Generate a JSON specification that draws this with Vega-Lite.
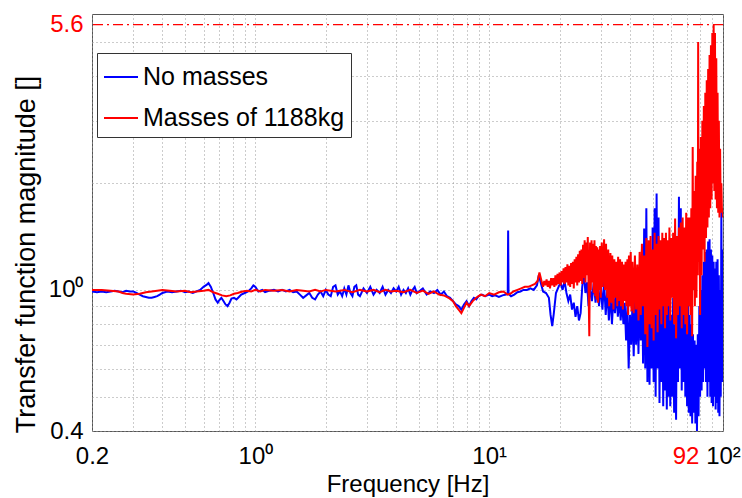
{
"$schema": "https://vega.github.io/schema/vega-lite/v6.json",
"width": 631, "height": 417,
"autosize": {"type": "none"},
"padding": {"left": 92, "top": 14, "right": 19, "bottom": 67},
"background": "white",
"config": {"view": {"stroke": "#555", "strokeWidth": 1}, "font": "Liberation Sans"},
"datasets": {
"blue": [
{"f":0.2,"v":0.99},{"f":0.21,"v":0.985},{"f":0.22,"v":0.99},{"f":0.23,"v":0.985},{"f":0.24,"v":0.99},{"f":0.25,"v":0.995},{"f":0.26,"v":0.99},{"f":0.27,"v":0.985},{"f":0.28,"v":0.995},{"f":0.29,"v":0.99},{"f":0.3,"v":0.99},{"f":0.31,"v":0.98},{"f":0.32,"v":0.97},{"f":0.33,"v":0.96},{"f":0.34,"v":0.955},{"f":0.35,"v":0.95},{"f":0.36,"v":0.95},{"f":0.37,"v":0.955},{"f":0.38,"v":0.96},{"f":0.39,"v":0.97},{"f":0.4,"v":0.98},{"f":0.42,"v":0.99},{"f":0.44,"v":0.985},{"f":0.46,"v":0.99},{"f":0.48,"v":0.995},{"f":0.5,"v":0.985},{"f":0.52,"v":0.99},{"f":0.54,"v":0.98},{"f":0.56,"v":0.99},{"f":0.58,"v":1.0},{"f":0.6,"v":1.02},{"f":0.62,"v":1.035},{"f":0.63,"v":1.045},{"f":0.645,"v":1.02},{"f":0.66,"v":0.98},{"f":0.675,"v":0.94},{"f":0.69,"v":0.92},{"f":0.7,"v":0.935},{"f":0.715,"v":0.95},{"f":0.73,"v":0.93},{"f":0.745,"v":0.91},{"f":0.76,"v":0.9},{"f":0.775,"v":0.92},{"f":0.79,"v":0.945},{"f":0.81,"v":0.95},{"f":0.83,"v":0.94},{"f":0.85,"v":0.955},{"f":0.87,"v":0.97},{"f":0.9,"v":0.98},{"f":0.93,"v":0.99},{"f":0.96,"v":1.01},{"f":0.98,"v":1.03},{"f":1.0,"v":1.02},{"f":1.03,"v":0.99},{"f":1.07,"v":1.0},{"f":1.1,"v":0.985},{"f":1.15,"v":0.995},{"f":1.2,"v":1.0},{"f":1.25,"v":0.99},{"f":1.3,"v":1.0},{"f":1.35,"v":0.99},{"f":1.4,"v":1.0},{"f":1.45,"v":0.985},{"f":1.5,"v":0.99},{"f":1.55,"v":0.97},{"f":1.6,"v":0.95},{"f":1.65,"v":0.965},{"f":1.7,"v":0.98},{"f":1.75,"v":0.95},{"f":1.8,"v":0.94},{"f":1.85,"v":0.97},{"f":1.9,"v":0.99},{"f":1.95,"v":0.96},{"f":2.0,"v":1.0},{"f":2.05,"v":0.97},{"f":2.1,"v":0.96},{"f":2.15,"v":1.02},{"f":2.2,"v":1.03},{"f":2.25,"v":0.97},{"f":2.3,"v":0.99},{"f":2.35,"v":0.96},{"f":2.4,"v":1.01},{"f":2.45,"v":0.97},{"f":2.5,"v":1.03},{"f":2.55,"v":0.98},{"f":2.6,"v":0.96},{"f":2.65,"v":1.02},{"f":2.7,"v":1.03},{"f":2.75,"v":0.97},{"f":2.8,"v":0.96},{"f":2.9,"v":1.01},{"f":3.0,"v":0.98},{"f":3.1,"v":1.02},{"f":3.2,"v":0.97},{"f":3.3,"v":1.0},{"f":3.4,"v":0.98},{"f":3.5,"v":1.02},{"f":3.6,"v":0.97},{"f":3.7,"v":1.0},{"f":3.8,"v":0.98},{"f":3.9,"v":1.01},{"f":4.0,"v":0.99},{"f":4.1,"v":1.02},{"f":4.2,"v":0.97},{"f":4.3,"v":1.0},{"f":4.4,"v":0.98},{"f":4.5,"v":1.01},{"f":4.6,"v":0.97},{"f":4.7,"v":1.0},{"f":4.8,"v":1.02},{"f":4.9,"v":0.98},{"f":5.0,"v":0.99},{"f":5.2,"v":1.01},{"f":5.4,"v":0.97},{"f":5.6,"v":0.99},{"f":5.8,"v":0.98},{"f":6.0,"v":1.0},{"f":6.2,"v":0.97},{"f":6.4,"v":0.99},{"f":6.6,"v":0.96},{"f":6.8,"v":0.95},{"f":7.0,"v":0.93},{"f":7.2,"v":0.91},{"f":7.4,"v":0.9},{"f":7.6,"v":0.88},{"f":7.8,"v":0.91},{"f":8.0,"v":0.93},{"f":8.2,"v":0.9},{"f":8.4,"v":0.93},{"f":8.6,"v":0.95},{"f":8.8,"v":0.94},{"f":9.0,"v":0.96},{"f":9.3,"v":0.97},{"f":9.6,"v":0.96},{"f":10.0,"v":0.97},{"f":10.3,"v":0.96},{"f":10.6,"v":0.965},{"f":11.0,"v":0.955},{"f":11.4,"v":0.965},{"f":11.8,"v":0.97},{"f":12.0,"v":0.975},{"f":12.05,"v":1.47},{"f":12.1,"v":0.975},{"f":12.4,"v":0.96},{"f":12.8,"v":0.97},{"f":13.2,"v":0.985},{"f":13.6,"v":0.99},{"f":14.0,"v":1.0},{"f":14.5,"v":1.0},{"f":15.0,"v":1.01},{"f":15.5,"v":1.0},{"f":16.0,"v":1.03},{"f":16.3,"v":1.1},{"f":16.6,"v":1.05},{"f":17.0,"v":0.99},{"f":17.5,"v":0.98},{"f":18.0,"v":0.95},{"f":18.3,"v":0.85},{"f":18.6,"v":0.79},{"f":18.9,"v":0.86},{"f":19.3,"v":0.98},{"f":19.8,"v":1.02},{"f":20.2,"v":1.05},{"f":20.6,"v":1.0},{"f":21.0,"v":1.06},{"f":21.4,"v":0.98},{"f":21.8,"v":0.93},{"f":22.2,"v":0.97},{"f":22.6,"v":0.88},{"f":23.0,"v":0.92},{"f":23.4,"v":0.84},{"f":23.8,"v":0.9},{"f":24.2,"v":0.82},{"f":24.6,"v":0.86},{"f":25.0,"v":1.02},{"f":25.4,"v":1.12},{"f":25.8,"v":0.98},{"f":26.2,"v":1.05},{"f":26.6,"v":0.9},{"f":27.0,"v":1.02},{"f":27.5,"v":0.93},{"f":28.0,"v":1.05},{"f":28.5,"v":0.92},{"f":29.0,"v":1.05},{"f":29.5,"v":0.9},{"f":30.0,"v":1.03},{"f":30.5,"v":0.88},{"f":31.0,"v":1.06},{"f":31.5,"v":0.85},{"f":32.0,"v":1.0},{"f":32.5,"v":0.82},{"f":33.0,"v":0.98},{"f":33.5,"v":0.8},{"f":34.0,"v":0.96},{"f":34.5,"v":0.86},{"f":35.0,"v":1.0},{"f":35.5,"v":0.84},{"f":36.0,"v":0.96},{"f":36.5,"v":0.82},{"f":37.0,"v":0.94},{"f":37.5,"v":0.8},{"f":38.0,"v":0.92},{"f":38.5,"v":0.72},{"f":39.0,"v":0.9},{"f":39.5,"v":0.6},{"f":40.0,"v":0.85},{"f":40.5,"v":0.7},{"f":41.0,"v":0.92},{"f":41.5,"v":0.65},{"f":42.0,"v":0.95},{"f":42.5,"v":0.7},{"f":43.0,"v":1.0},{"f":43.5,"v":0.66},{"f":44.0,"v":1.1},{"f":44.5,"v":0.72},{"f":45.0,"v":1.3},{"f":45.5,"v":0.62},{"f":46.0,"v":1.49},{"f":46.5,"v":0.6},{"f":47.0,"v":1.7},{"f":47.5,"v":0.55},{"f":48.0,"v":1.3},{"f":48.5,"v":0.54},{"f":49.0,"v":1.2},{"f":49.5,"v":0.6},{"f":50.0,"v":1.5},{"f":50.5,"v":0.55},{"f":51.0,"v":1.7},{"f":51.5,"v":0.5},{"f":52.0,"v":1.87},{"f":52.5,"v":0.6},{"f":53.0,"v":1.6},{"f":53.5,"v":0.48},{"f":54.0,"v":1.3},{"f":54.5,"v":0.55},{"f":55.0,"v":1.1},{"f":55.5,"v":0.47},{"f":56.0,"v":1.0},{"f":56.5,"v":0.52},{"f":57.0,"v":0.9},{"f":57.5,"v":0.46},{"f":58.0,"v":1.05},{"f":58.5,"v":0.5},{"f":59.0,"v":0.9},{"f":59.5,"v":0.47},{"f":60.0,"v":0.85},{"f":60.6,"v":0.5},{"f":61.2,"v":0.95},{"f":61.8,"v":0.45},{"f":62.4,"v":0.8},{"f":63.0,"v":0.43},{"f":63.6,"v":1.2},{"f":64.2,"v":0.55},{"f":64.8,"v":1.83},{"f":65.4,"v":0.6},{"f":66.0,"v":1.7},{"f":66.6,"v":0.52},{"f":67.2,"v":1.3},{"f":67.8,"v":0.55},{"f":68.4,"v":1.1},{"f":69.0,"v":0.5},{"f":69.6,"v":0.95},{"f":70.2,"v":0.47},{"f":70.8,"v":0.9},{"f":71.4,"v":0.45},{"f":72.0,"v":0.85},{"f":72.6,"v":0.44},{"f":73.2,"v":0.8},{"f":73.8,"v":0.42},{"f":74.4,"v":0.75},{"f":75.0,"v":0.45},{"f":75.6,"v":0.72},{"f":76.2,"v":0.42},{"f":76.8,"v":0.7},{"f":77.4,"v":0.4},{"f":78.0,"v":0.75},{"f":78.6,"v":0.44},{"f":79.2,"v":0.9},{"f":79.8,"v":0.5},{"f":80.4,"v":1.0},{"f":81.0,"v":0.52},{"f":81.6,"v":1.1},{"f":82.2,"v":0.55},{"f":82.8,"v":1.2},{"f":83.4,"v":0.6},{"f":84.0,"v":1.28},{"f":84.6,"v":0.55},{"f":85.2,"v":1.3},{"f":85.8,"v":0.5},{"f":86.4,"v":1.37},{"f":87.0,"v":0.55},{"f":87.6,"v":1.39},{"f":88.2,"v":0.5},{"f":88.8,"v":1.3},{"f":89.4,"v":0.48},{"f":90.0,"v":1.25},{"f":90.6,"v":0.47},{"f":91.2,"v":1.2},{"f":91.8,"v":0.5},{"f":92.4,"v":1.15},{"f":93.0,"v":0.46},{"f":93.6,"v":1.2},{"f":94.2,"v":0.48},{"f":94.8,"v":1.22},{"f":95.4,"v":0.45},{"f":96.0,"v":1.1},{"f":96.6,"v":0.44},{"f":97.2,"v":1.0},{"f":97.8,"v":0.5},{"f":98.4,"v":1.67},{"f":99.0,"v":0.55},{"f":99.6,"v":1.3},{"f":100,"v":0.85}
],
"red": [
{"f":0.2,"v":1.0},{"f":0.22,"v":1.0},{"f":0.24,"v":0.995},{"f":0.26,"v":0.99},{"f":0.27,"v":0.98},{"f":0.28,"v":0.975},{"f":0.3,"v":0.97},{"f":0.32,"v":0.975},{"f":0.34,"v":0.985},{"f":0.36,"v":0.99},{"f":0.38,"v":0.995},{"f":0.4,"v":1.0},{"f":0.43,"v":0.995},{"f":0.46,"v":0.99},{"f":0.5,"v":0.995},{"f":0.53,"v":0.985},{"f":0.56,"v":0.99},{"f":0.6,"v":0.995},{"f":0.63,"v":1.0},{"f":0.66,"v":0.985},{"f":0.69,"v":0.975},{"f":0.72,"v":0.965},{"f":0.75,"v":0.96},{"f":0.78,"v":0.965},{"f":0.81,"v":0.975},{"f":0.84,"v":0.98},{"f":0.88,"v":0.99},{"f":0.92,"v":0.995},{"f":0.96,"v":0.99},{"f":1.0,"v":1.0},{"f":1.05,"v":0.99},{"f":1.1,"v":1.0},{"f":1.2,"v":0.995},{"f":1.3,"v":1.0},{"f":1.4,"v":0.99},{"f":1.5,"v":1.0},{"f":1.6,"v":0.995},{"f":1.7,"v":0.99},{"f":1.8,"v":1.0},{"f":1.9,"v":0.99},{"f":2.0,"v":1.0},{"f":2.2,"v":0.99},{"f":2.4,"v":1.0},{"f":2.6,"v":0.985},{"f":2.8,"v":1.0},{"f":3.0,"v":0.99},{"f":3.2,"v":1.0},{"f":3.4,"v":0.985},{"f":3.6,"v":1.0},{"f":3.8,"v":0.99},{"f":4.0,"v":0.995},{"f":4.3,"v":0.985},{"f":4.6,"v":1.0},{"f":4.9,"v":0.98},{"f":5.2,"v":0.995},{"f":5.5,"v":0.975},{"f":5.8,"v":0.99},{"f":6.1,"v":0.97},{"f":6.4,"v":0.965},{"f":6.7,"v":0.95},{"f":7.0,"v":0.93},{"f":7.2,"v":0.9},{"f":7.4,"v":0.88},{"f":7.6,"v":0.86},{"f":7.8,"v":0.89},{"f":8.0,"v":0.92},{"f":8.2,"v":0.9},{"f":8.5,"v":0.93},{"f":8.8,"v":0.95},{"f":9.2,"v":0.97},{"f":9.6,"v":0.96},{"f":10.0,"v":0.98},{"f":10.5,"v":0.97},{"f":11.0,"v":0.985},{"f":11.5,"v":0.99},{"f":12.0,"v":0.97},{"f":12.3,"v":0.975},{"f":12.7,"v":0.99},{"f":13.2,"v":1.0},{"f":13.7,"v":1.01},{"f":14.2,"v":1.02},{"f":14.7,"v":1.02},{"f":15.2,"v":1.03},{"f":15.7,"v":1.04},{"f":16.1,"v":1.06},{"f":16.4,"v":1.12},{"f":16.8,"v":1.05},{"f":17.0,"v":1.02},{"f":17.2,"v":1.06},{"f":17.4,"v":1.03},{"f":17.6,"v":1.07},{"f":17.8,"v":1.02},{"f":18.0,"v":1.06},{"f":18.2,"v":1.01},{"f":18.4,"v":1.08},{"f":18.6,"v":1.03},{"f":18.8,"v":1.08},{"f":19.0,"v":1.02},{"f":19.2,"v":1.1},{"f":19.4,"v":1.03},{"f":19.6,"v":1.11},{"f":19.8,"v":1.04},{"f":20.0,"v":1.12},{"f":20.2,"v":1.03},{"f":20.4,"v":1.13},{"f":20.6,"v":1.05},{"f":20.8,"v":1.15},{"f":21.0,"v":1.04},{"f":21.2,"v":1.16},{"f":21.4,"v":1.05},{"f":21.6,"v":1.18},{"f":21.8,"v":1.03},{"f":22.0,"v":1.17},{"f":22.2,"v":1.02},{"f":22.4,"v":1.19},{"f":22.6,"v":1.04},{"f":22.8,"v":1.2},{"f":23.0,"v":1.01},{"f":23.2,"v":1.22},{"f":23.4,"v":1.05},{"f":23.6,"v":1.24},{"f":23.8,"v":1.03},{"f":24.0,"v":1.26},{"f":24.2,"v":1.05},{"f":24.4,"v":1.29},{"f":24.6,"v":1.06},{"f":24.8,"v":1.3},{"f":25.0,"v":1.04},{"f":25.2,"v":1.34},{"f":25.4,"v":1.08},{"f":25.6,"v":1.38},{"f":25.8,"v":1.05},{"f":26.0,"v":1.36},{"f":26.2,"v":1.1},{"f":26.4,"v":1.41},{"f":26.6,"v":1.02},{"f":26.8,"v":0.74},{"f":27.0,"v":1.36},{"f":27.2,"v":1.0},{"f":27.4,"v":1.38},{"f":27.6,"v":1.05},{"f":27.8,"v":1.35},{"f":28.0,"v":0.98},{"f":28.2,"v":1.38},{"f":28.4,"v":0.96},{"f":28.6,"v":1.33},{"f":28.8,"v":0.94},{"f":29.0,"v":1.32},{"f":29.2,"v":0.92},{"f":29.4,"v":1.3},{"f":29.6,"v":1.0},{"f":29.8,"v":1.33},{"f":30.0,"v":0.95},{"f":30.3,"v":1.36},{"f":30.6,"v":1.02},{"f":31.0,"v":1.39},{"f":31.3,"v":1.0},{"f":31.6,"v":1.35},{"f":32.0,"v":0.95},{"f":32.3,"v":1.3},{"f":32.6,"v":0.9},{"f":33.0,"v":1.27},{"f":33.3,"v":0.92},{"f":33.6,"v":1.25},{"f":34.0,"v":0.88},{"f":34.3,"v":1.22},{"f":34.6,"v":0.95},{"f":35.0,"v":1.2},{"f":35.3,"v":0.9},{"f":35.6,"v":1.24},{"f":36.0,"v":0.93},{"f":36.3,"v":1.22},{"f":36.6,"v":0.9},{"f":37.0,"v":1.2},{"f":37.3,"v":0.88},{"f":37.6,"v":1.18},{"f":38.0,"v":0.93},{"f":38.3,"v":1.2},{"f":38.6,"v":0.9},{"f":39.0,"v":1.22},{"f":39.3,"v":0.85},{"f":39.6,"v":1.25},{"f":40.0,"v":0.9},{"f":40.3,"v":1.28},{"f":40.6,"v":0.87},{"f":41.0,"v":1.2},{"f":41.5,"v":0.86},{"f":42.0,"v":1.25},{"f":42.5,"v":0.88},{"f":43.0,"v":1.18},{"f":43.5,"v":0.82},{"f":44.0,"v":1.28},{"f":44.5,"v":0.85},{"f":45.0,"v":1.35},{"f":45.5,"v":0.9},{"f":46.0,"v":1.25},{"f":46.5,"v":0.75},{"f":47.0,"v":1.4},{"f":47.5,"v":0.69},{"f":48.0,"v":1.38},{"f":48.5,"v":0.8},{"f":49.0,"v":1.42},{"f":49.5,"v":0.78},{"f":50.0,"v":1.3},{"f":50.5,"v":0.72},{"f":51.0,"v":1.45},{"f":51.5,"v":0.85},{"f":52.0,"v":1.35},{"f":52.5,"v":0.76},{"f":53.0,"v":1.42},{"f":53.5,"v":0.88},{"f":54.0,"v":1.38},{"f":54.5,"v":0.8},{"f":55.0,"v":1.45},{"f":55.5,"v":0.9},{"f":56.0,"v":1.4},{"f":56.5,"v":0.78},{"f":57.0,"v":1.45},{"f":57.5,"v":0.85},{"f":58.0,"v":1.38},{"f":58.5,"v":0.9},{"f":59.0,"v":1.5},{"f":59.5,"v":0.82},{"f":60.0,"v":1.4},{"f":60.6,"v":0.95},{"f":61.2,"v":1.45},{"f":61.8,"v":0.8},{"f":62.4,"v":1.59},{"f":63.0,"v":0.73},{"f":63.6,"v":1.42},{"f":64.2,"v":0.85},{"f":64.8,"v":1.5},{"f":65.4,"v":0.9},{"f":66.0,"v":1.55},{"f":66.6,"v":0.78},{"f":67.2,"v":1.6},{"f":67.8,"v":0.85},{"f":68.4,"v":1.5},{"f":69.0,"v":0.8},{"f":69.6,"v":1.65},{"f":70.2,"v":0.75},{"f":70.8,"v":1.6},{"f":71.4,"v":0.9},{"f":72.0,"v":1.6},{"f":72.6,"v":0.85},{"f":73.2,"v":1.7},{"f":73.8,"v":0.74},{"f":74.2,"v":2.53},{"f":74.6,"v":1.0},{"f":75.2,"v":1.9},{"f":75.8,"v":0.9},{"f":76.4,"v":2.1},{"f":77.0,"v":0.95},{"f":77.6,"v":2.3},{"f":78.0,"v":1.1},{"f":78.3,"v":5.0},{"f":78.6,"v":1.2},{"f":79.2,"v":2.5},{"f":79.8,"v":0.85},{"f":80.4,"v":2.7},{"f":81.0,"v":1.1},{"f":81.6,"v":3.0},{"f":82.2,"v":1.3},{"f":82.8,"v":3.3},{"f":83.4,"v":1.2},{"f":84.0,"v":3.6},{"f":84.6,"v":1.4},{"f":85.2,"v":3.9},{"f":85.8,"v":1.5},{"f":86.4,"v":4.2},{"f":87.0,"v":1.6},{"f":87.6,"v":4.6},{"f":88.2,"v":1.7},{"f":88.8,"v":4.9},{"f":89.4,"v":1.8},{"f":90.0,"v":5.3},{"f":90.6,"v":2.0},{"f":91.2,"v":5.6},{"f":91.8,"v":1.9},{"f":92.4,"v":5.3},{"f":93.0,"v":1.8},{"f":93.6,"v":4.5},{"f":94.2,"v":1.7},{"f":94.8,"v":3.6},{"f":95.4,"v":1.65},{"f":96.0,"v":3.0},{"f":96.6,"v":1.6},{"f":97.2,"v":2.5},{"f":97.8,"v":1.65},{"f":98.4,"v":2.0},{"f":99.0,"v":1.65},{"f":99.6,"v":1.7},{"f":100,"v":1.6}
],
"ref": [{"v": 5.6}]
},
"layer": [
{
"data": {"name": "blue"},
"mark": {"type": "line", "strokeWidth": 2, "clip": true},
"encoding": {
"x": {"field": "f", "type": "quantitative",
"scale": {"type": "log", "domain": [0.2, 100], "nice": false},
"axis": {
"values": [0.2,0.3,0.4,0.5,0.6,0.7,0.8,0.9,1,2,3,4,5,6,7,8,9,10,20,30,40,50,60,70,80,90,92,100],
"labelExpr": "datum.value == 0.2 ? '0.2' : datum.value == 1 ? '10⁰' : datum.value == 10 ? '10¹' : datum.value == 92 ? '92' : datum.value == 100 ? '10²' : ''",
"labelColor": {"condition": {"test": "datum.value == 92", "value": "#ff0000"}, "value": "#000000"},
"labelOffset": {"condition": {"test": "datum.value == 92", "value": -29}, "value": 0},
"gridOpacity": {"condition": {"test": "datum.value == 92", "value": 0}, "value": 1},
"grid": true, "gridColor": "#999999", "gridDash": [1, 3], "gridWidth": 1,
"ticks": false, "tickSize": 0, "domain": false,
"labelFontSize": 24, "labelFont": "Liberation Sans", "labelPadding": 13,
"labelOverlap": false, "labelFlush": false, "labelBound": false,
"title": "Frequency [Hz]", "titleFontSize": 24, "titleFont": "Liberation Sans", "titleFontWeight": "normal", "titleColor": "#000000",
"titleY": 60, "titleBaseline": "alphabetic"
}},
"y": {"field": "v", "type": "quantitative",
"scale": {"type": "log", "domain": [0.4, 6], "nice": false},
"axis": {
"values": [0.4,0.5,0.6,0.7,0.8,0.9,1,2,3,4,5,5.6],
"labelExpr": "datum.value == 0.4 ? '0.4' : datum.value == 1 ? '10⁰' : datum.value == 5.6 ? '5.6' : ''",
"labelColor": {"condition": {"test": "datum.value == 5.6", "value": "#ff0000"}, "value": "#000000"},
"gridOpacity": {"condition": {"test": "datum.value == 5.6", "value": 0}, "value": 1},
"grid": true, "gridColor": "#999999", "gridDash": [1, 3], "gridWidth": 1,
"ticks": false, "tickSize": 0, "domain": false,
"labelFontSize": 24, "labelFont": "Liberation Sans", "labelPadding": 9,
"labelOverlap": false, "labelFlush": false, "labelBound": false,
"title": "Transfer function magnitude []", "titleFontSize": 27, "titleFont": "Liberation Sans", "titleFontWeight": "normal", "titleColor": "#000000",
"titleX": -58, "titleY": 240, "titleBaseline": "alphabetic", "titleAngle": 270
}},
"color": {"datum": "No masses", "type": "nominal",
"scale": {"domain": ["No masses", "Masses of 1188kg"], "range": ["#0000ff", "#ff0000"]},
"legend": {"orient": "none", "legendX": 5, "legendY": 39, "title": null, "symbolType": "stroke", "symbolSize": 1156, "symbolStrokeWidth": 2, "labelFontSize": 25, "labelFont": "Liberation Sans", "labelColor": "#000000", "labelLimit": 0, "padding": 6, "rowPadding": 10, "strokeColor": "#333333", "fillColor": "#ffffff", "labelOffset": 4}}
}
},
{
"data": {"name": "red"},
"mark": {"type": "line", "strokeWidth": 2, "clip": true},
"encoding": {
"x": {"field": "f", "type": "quantitative"},
"y": {"field": "v", "type": "quantitative"},
"color": {"datum": "Masses of 1188kg", "type": "nominal"}
}
},
{
"data": {"name": "ref"},
"mark": {"type": "rule", "color": "#ff0000", "strokeDash": [10, 4, 2, 4], "strokeWidth": 1.2},
"encoding": {
"y": {"field": "v", "type": "quantitative"}
}
}
]
}
